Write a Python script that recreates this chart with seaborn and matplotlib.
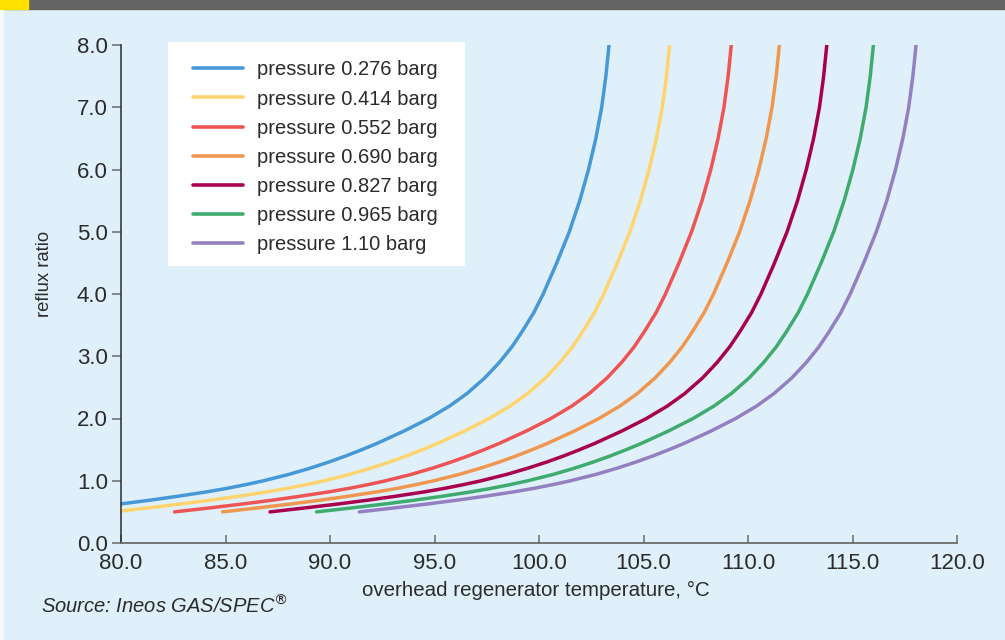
import numpy as np
import pandas as pd
import seaborn as sns
import matplotlib.pyplot as plt
from matplotlib.patches import Rectangle

# Data: overhead temperature (degC) at which each
# pressure curve reaches a given reflux ratio
reflux = [0.5, 0.56, 0.63, 0.69, 0.75, 0.82, 0.88, 0.94, 1.0, 1.1, 1.2, 1.3, 1.4, 1.5, 1.6, 1.8,
          2.0, 2.2, 2.4, 2.65, 2.9, 3.15, 3.4, 3.7, 4.0, 4.5, 5.0, 5.5, 6.0, 6.5, 7.0, 7.5, 8.0]

temp_0276 = [76.71, 78.3, 80.05, 81.43, 82.7, 84.07, 85.1, 86.0, 86.82, 88.01, 89.03, 89.94,
             90.77, 91.53, 92.25, 93.55, 94.72, 95.72, 96.55, 97.4, 98.1, 98.7, 99.2, 99.75,
             100.2, 100.85, 101.45, 101.95, 102.37, 102.72, 103.0, 103.2, 103.35]
temp_0414 = [79.61, 81.2, 82.95, 84.33, 85.6, 86.97, 88.0, 88.9, 89.72, 90.91, 91.93, 92.84,
             93.67, 94.43, 95.15, 96.45, 97.62, 98.62, 99.45, 100.3, 101.0, 101.6, 102.1, 102.65,
             103.1, 103.75, 104.35, 104.85, 105.27, 105.62, 105.9, 106.1, 106.25]
temp_0552 = [82.56, 84.15, 85.9, 87.28, 88.55, 89.92, 90.95, 91.85, 92.67, 93.86, 94.88, 95.79,
             96.62, 97.38, 98.1, 99.4, 100.57, 101.57, 102.4, 103.25, 103.95, 104.55, 105.05, 105.6,
             106.05, 106.7, 107.3, 107.8, 108.22, 108.57, 108.85, 109.05, 109.2]
temp_0690 = [84.86, 86.45, 88.2, 89.58, 90.85, 92.22, 93.25, 94.15, 94.97, 96.16, 97.18, 98.09,
             98.92, 99.68, 100.4, 101.7, 102.87, 103.87, 104.7, 105.55, 106.25, 106.85, 107.35, 107.9,
             108.35, 109.0, 109.6, 110.1, 110.52, 110.87, 111.15, 111.35, 111.5]
temp_0827 = [87.13, 88.72, 90.47, 91.85, 93.12, 94.49, 95.52, 96.42, 97.24, 98.43, 99.45, 100.36,
             101.19, 101.95, 102.67, 103.97, 105.14, 106.14, 106.97, 107.82, 108.52, 109.12, 109.62, 110.17,
             110.62, 111.27, 111.87, 112.37, 112.79, 113.14, 113.42, 113.62, 113.77]
temp_0965 = [89.36, 90.95, 92.7, 94.08, 95.35, 96.72, 97.75, 98.65, 99.47, 100.66, 101.68, 102.59,
             103.42, 104.18, 104.9, 106.2, 107.37, 108.37, 109.2, 110.05, 110.75, 111.35, 111.85, 112.4,
             112.85, 113.5, 114.1, 114.6, 115.02, 115.37, 115.65, 115.85, 116.0]
temp_1100 = [91.4, 92.99, 94.74, 96.12, 97.39, 98.76, 99.79, 100.69, 101.51, 102.7, 103.72, 104.63,
             105.46, 106.22, 106.94, 108.24, 109.41, 110.41, 111.24, 112.09, 112.79, 113.39, 113.89, 114.44,
             114.89, 115.54, 116.14, 116.64, 117.06, 117.41, 117.69, 117.89, 118.04]

labels = ["pressure 0.276 barg", "pressure 0.414 barg", "pressure 0.552 barg",
          "pressure 0.690 barg", "pressure 0.827 barg", "pressure 0.965 barg",
          "pressure 1.10 barg"]
colors = ["#4698d6", "#ffd46e", "#ee5454", "#f0964f", "#a8004f", "#3fac6e", "#9480c0"]

x_ticks = [80, 85, 90, 95, 100, 105, 110, 115, 120]
y_ticks = [0, 1, 2, 3, 4, 5, 6, 7, 8]

series = [temp_0276, temp_0414, temp_0552, temp_0690, temp_0827, temp_0965, temp_1100]
df = pd.concat([pd.DataFrame({"temp": t, "reflux": reflux, "series": lab})
                for t, lab in zip(series, labels)], ignore_index=True)

bg = "#dff0fb"
txt = "#2b2b2b"
sns.set_theme(style="ticks")
plt.rcParams["font.family"] = ["Liberation Sans", "DejaVu Sans"]

fig = plt.figure(figsize=(10.05, 6.4), dpi=100, facecolor=bg)
ax = fig.add_axes([121 / 1005, 1 - 543 / 640, 836 / 1005, 498 / 640])
ax.set_facecolor(bg)

sns.lineplot(data=df, x="temp", y="reflux", hue="series", palette=dict(zip(labels, colors)),
             estimator=None, sort=False, linewidth=2.5, ax=ax,
             solid_capstyle="round")

ax.set_xlim(80, 120)
ax.set_ylim(0, 8)
ax.set_xticks(x_ticks)
ax.set_yticks(y_ticks)
ax.set_xticklabels([f"{v:.1f}" for v in x_ticks])
ax.set_yticklabels([f"{v:.1f}" for v in y_ticks])
ax.tick_params(axis="x", direction="in", length=6, width=1.1, color="#6a6a6a",
               labelsize=16, labelcolor=txt, pad=7.5)
ax.tick_params(axis="y", direction="out", length=6.5, width=1.1, color="#6a6a6a",
               labelsize=16, labelcolor=txt, pad=3)

sns.despine(ax=ax)
ax.spines["left"].set_color("#2a2a2a")
ax.spines["left"].set_linewidth(1.1)
ax.spines["bottom"].set_color("#6a6a6a")
ax.spines["bottom"].set_linewidth(1.3)

ax.set_xlabel("overhead regenerator temperature, °C", fontsize=14.8, color=txt)
ax.xaxis.set_label_coords(0.496, -0.077)
ax.set_ylabel("reflux ratio", fontsize=13.3, color=txt)
ax.yaxis.set_label_coords(-0.0813, 0.541)

# legend sits on its own white panel
ax.add_patch(Rectangle((47 / 836, 277 / 498), 297 / 836, 224 / 498, transform=ax.transAxes,
                       facecolor="white", edgecolor="none", zorder=4, clip_on=False))
handles, labs = ax.get_legend_handles_labels()
leg = ax.legend(handles, labs, loc="upper left", bbox_to_anchor=(72 / 836, 0.969),
                borderaxespad=0, borderpad=0, fontsize=14.5, handlelength=2.48,
                handletextpad=0.7, labelspacing=0.5, frameon=False)
leg.set_zorder(5)
for t in leg.get_texts():
    t.set_color(txt)
for h in leg.get_lines():
    h.set_linewidth(2.6)

fig.text(41 / 1005, 1 - 606 / 640, r"Source: Ineos GAS/SPEC$^{\circledR}$",
         fontsize=14.5, style="italic", color=txt, va="center", ha="left")

# header band
fig.patches.append(Rectangle((0, 1 - 8.5 / 640), 1, 8.5 / 640, transform=fig.transFigure,
                             color="#646464", zorder=5))
fig.patches.append(Rectangle((0, 1 - 8.5 / 640), 28 / 1005, 8.5 / 640, transform=fig.transFigure,
                             color="#ffe100", zorder=6))
fig.patches.append(Rectangle((0, 0), 3 / 1005, 1 - 8.5 / 640, transform=fig.transFigure,
                             color="#f4f9fc", zorder=5))

fig.savefig("out.png", dpi=100, facecolor=bg)
